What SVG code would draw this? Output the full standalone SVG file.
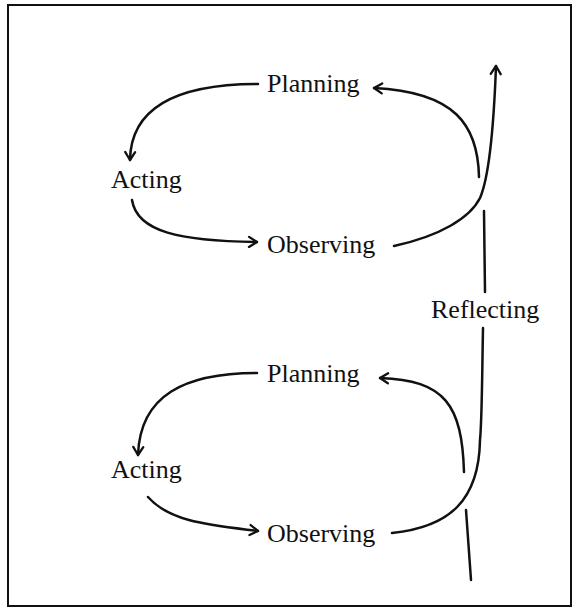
<svg xmlns="http://www.w3.org/2000/svg" width="579" height="611" viewBox="0 0 579 611">
<style>
.t{font-family:"Liberation Serif","Times New Roman",serif;font-size:26px;fill:#111}
.c{fill:none;stroke:#111;stroke-width:2.5;stroke-linecap:round}
</style>
<defs>
<marker id="ah" markerWidth="14" markerHeight="14" refX="0" refY="0" viewBox="-10 -7 12 14" orient="auto" markerUnits="userSpaceOnUse">
<path d="M-8,-5 L0,0 L-8,5" fill="none" stroke="#111" stroke-width="2.3" stroke-linecap="round" stroke-linejoin="round"/>
</marker>
</defs>
<rect x="8" y="5" width="563" height="601" fill="#fff" stroke="#111" stroke-width="2"/>
<g id="connectors">
<path class="c" d="M258,84 C180,84 131,105 130,160" marker-end="url(#ah)"/>
<path class="c" d="M132,200 C137,232 180,241 257,242" marker-end="url(#ah)"/>
<path class="c" d="M394,246 C440,236 470,218 480,198 C490,175 494,120 496,66" marker-end="url(#ah)"/>
<path class="c" d="M479,177 C478,125 455,92 374,88" marker-end="url(#ah)"/>
<path class="c" d="M484,211 L485,292"/>
<path class="c" d="M483,328 C482,380 482,420 480,440 C479,500 450,527 392,533"/>
<path class="c" d="M464,472 C462,405 445,380 380,378" marker-end="url(#ah)"/>
<path class="c" d="M257,373 C185,373 140,395 138,455" marker-end="url(#ah)"/>
<path class="c" d="M148,497 C170,522 210,525 258,531" marker-end="url(#ah)"/>
<path class="c" d="M466,510 L471,580"/>
</g>
<g id="planning1"><text class="t" x="267" y="92">Planning</text></g>
<g id="acting1"><text class="t" x="111" y="188">Acting</text></g>
<g id="observing1"><text class="t" x="267" y="253">Observing</text></g>
<g id="reflecting"><text class="t" x="431" y="318">Reflecting</text></g>
<g id="planning2"><text class="t" x="267" y="382">Planning</text></g>
<g id="acting2"><text class="t" x="111" y="478">Acting</text></g>
<g id="observing2"><text class="t" x="267" y="542">Observing</text></g>
</svg>
